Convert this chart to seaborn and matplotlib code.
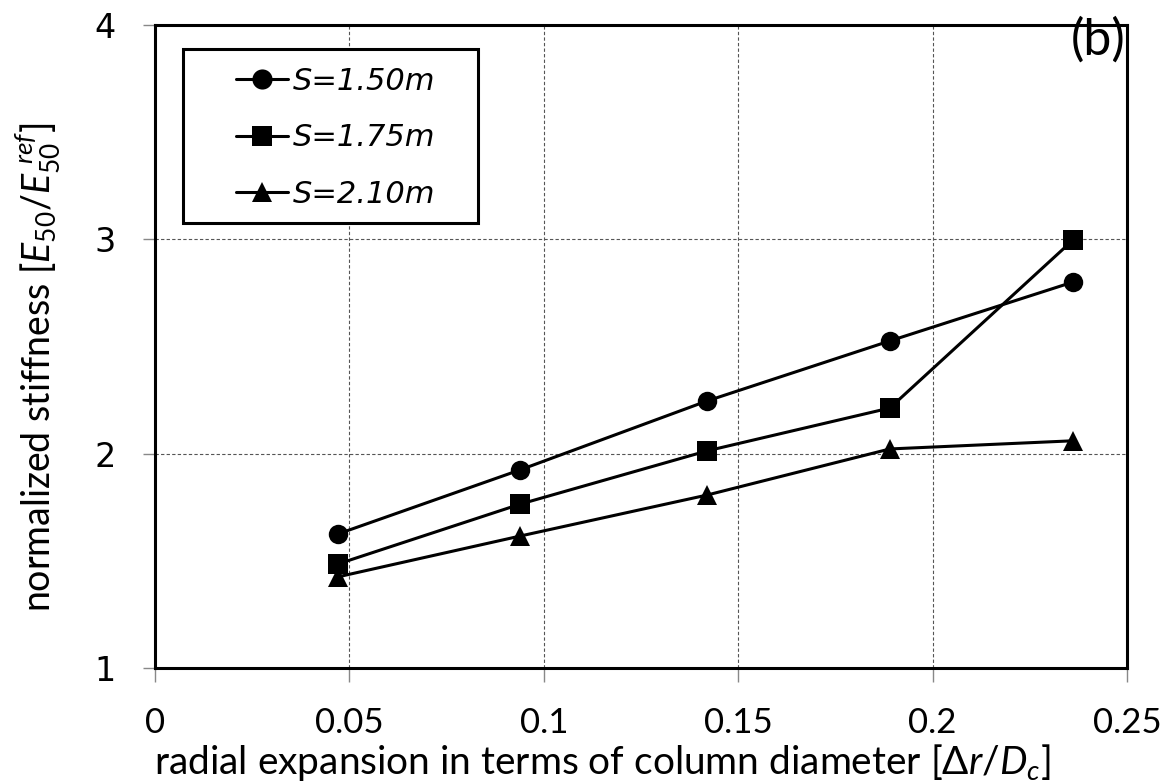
import matplotlib
matplotlib.use("Agg")
import matplotlib.pyplot as plt
import seaborn as sns
import pandas as pd
from matplotlib.lines import Line2D
from matplotlib.patches import Rectangle

# Data
x_vals = [0.047, 0.094, 0.142, 0.189, 0.236]
s150 = [1.625, 1.925, 2.246, 2.526, 2.80]
s175 = [1.485, 1.765, 2.013, 2.213, 2.995]
s210 = [1.425, 1.616, 1.807, 2.022, 2.06]
series_labels = ["S=1.50m", "S=1.75m", "S=2.10m"]
x_ticks = [0, 0.05, 0.1, 0.15, 0.2, 0.25]
x_tick_labels = ["0", "0.05", "0.1", "0.15", "0.2", "0.25"]
y_ticks = [1, 2, 3, 4]

sns.set_theme(style="white")
plt.rcParams["font.family"] = ["Lato", "DejaVu Sans"]
plt.rcParams["mathtext.fontset"] = "custom"
plt.rcParams["mathtext.rm"] = "Lato"
plt.rcParams["mathtext.it"] = "Lato:italic"
for k in ["text.color", "axes.labelcolor", "xtick.color", "ytick.color"]:
    plt.rcParams[k] = "black"

rows = []
for lab, vals in zip(series_labels, [s150, s175, s210]):
    for xv, yv in zip(x_vals, vals):
        rows.append({"x": xv, "y": yv, "series": lab})
df = pd.DataFrame(rows)

W, H = 1169, 783
fig = plt.figure(figsize=(W / 100, H / 100), dpi=100)
ax = fig.add_axes([155 / W, 1 - 668 / H, (1127 - 155) / W, (668 - 25) / H])

markers = {"S=1.50m": "o", "S=1.75m": "s", "S=2.10m": "^"}
sns.lineplot(data=df, x="x", y="y", hue="series", style="series",
             markers=markers, dashes=False,
             palette={k: "black" for k in series_labels},
             linewidth=2.2, markersize=14, markeredgewidth=0,
             legend=False, ax=ax, zorder=3)

ax.set_xlim(0, 0.25)
ax.set_ylim(1, 4)
ax.set_xticks(x_ticks)
ax.set_xticklabels(x_tick_labels, fontsize=25)
ax.set_yticks(y_ticks)
ax.set_yticklabels([str(v) for v in y_ticks], fontsize=24, family="DejaVu Sans")
ax.grid(True, color="#555555", linestyle=(0, (3, 2)), linewidth=0.8)
ax.tick_params(axis="both", direction="out", width=1, color="#888888",
               labelcolor="black", left=True, bottom=True)
ax.tick_params(axis="x", length=10, pad=18)
ax.tick_params(axis="y", length=9, pad=19)
for sp in ax.spines.values():
    sp.set_visible(True)
    sp.set_color("black")
    sp.set_linewidth(2.2)

ax.set_xlabel(r"radial expansion in terms of column diameter [$\mathit{\Delta r/D_c}$]",
              fontsize=28, labelpad=2)
ax.xaxis.set_label_coords(0.46, -0.115)
ax.set_ylabel(r"normalized stiffness [$E_{50}/E_{50}^{\ ref}$]", fontsize=27)
ax.yaxis.set_label_coords(-0.095, 0.468)

ax.text(0.998, 1.012, "(b)", transform=ax.transAxes, ha="right", va="top",
        fontsize=36)

# legend (frame drawn separately to reproduce its uneven padding)
handles = [Line2D([0], [0], color="black", linewidth=2.2, marker=markers[l],
                  markersize=14.5, markeredgewidth=0) for l in series_labels]
leg = fig.legend(handles, series_labels, loc="upper left",
                 bbox_to_anchor=(236 / W, 1 - 67 / H), frameon=False,
                 prop={"family": "DejaVu Sans", "style": "italic", "size": 22},
                 handlelength=1.7, handletextpad=0.15, labelspacing=0.9,
                 borderpad=0, borderaxespad=0)
leg.set_zorder(6)
fig.patches.append(Rectangle((183 / W, 1 - 223 / H), 295 / W, 174 / H,
                             transform=fig.transFigure, facecolor="white",
                             edgecolor="black", linewidth=2.2, zorder=5))

fig.savefig("out.png", dpi=100)
